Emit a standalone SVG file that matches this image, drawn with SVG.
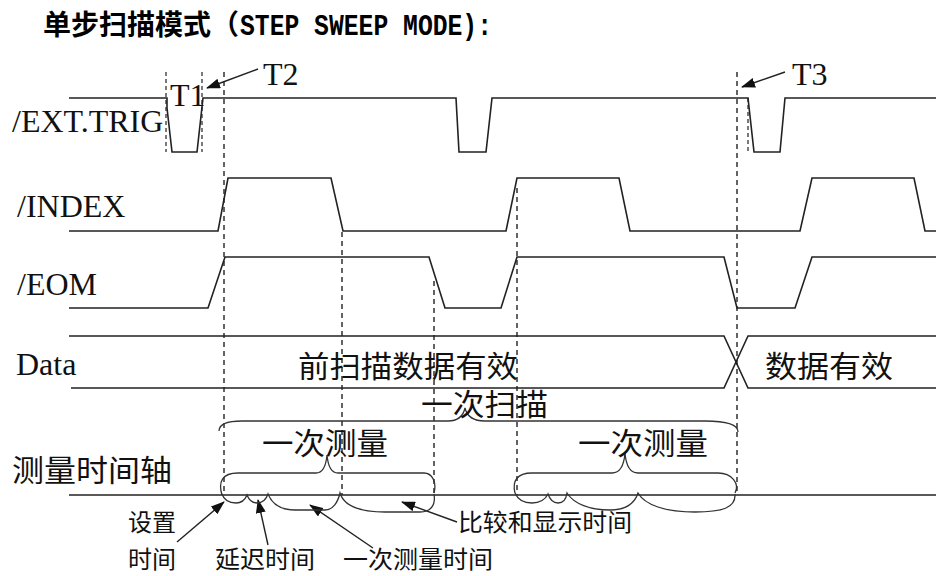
<svg xmlns="http://www.w3.org/2000/svg" width="936" height="576" viewBox="0 0 936 576">
<style>
.sig{fill:none;stroke:#222;stroke-width:1.6;stroke-linejoin:miter}
.dash{fill:none;stroke:#222;stroke-width:1.4;stroke-dasharray:5 4}
.dash2{fill:none;stroke:#222;stroke-width:1.2;stroke-dasharray:4 3}
.brace{fill:none;stroke:#333;stroke-width:1.3}
.arr{fill:none;stroke:#222;stroke-width:1.4}
.tm{font-family:"Liberation Serif","Times New Roman",serif;font-size:32px;fill:#111}
.cjk{font-family:"Noto Sans CJK SC","Noto Sans",sans-serif;font-size:30px;fill:#111}
.cjks{font-family:"Noto Sans CJK SC","Noto Sans",sans-serif;font-size:24px;fill:#111}
</style>
<defs>
<marker id="ah" markerWidth="14" markerHeight="10" refX="13" refY="5" orient="auto" markerUnits="userSpaceOnUse">
<path d="M0,0 L14,5 L0,10 Z" fill="#111"/>
</marker>
</defs>
<rect width="936" height="576" fill="#fff"/>

<g id="title">
<text x="43" y="35" font-family="Noto Sans CJK SC,sans-serif" font-weight="bold" font-size="28" fill="#000">单步扫描模式（</text>
<text x="240" y="35" font-family="Liberation Mono,monospace" font-weight="bold" font-size="29" textLength="252" lengthAdjust="spacingAndGlyphs" fill="#000">STEP SWEEP MODE):</text>
</g>

<g id="sig-ext-trig">
<text class="tm" x="12" y="132">/EXT.TRIG</text>
<path class="sig" d="M69,98 L167,98 L167,108 L172,152 L197,152 L203,98 L456,98 L459,152 L486,152 L492,98 L748,98 L754,152 L780,152 L785,98 L936,98"/>
</g>

<g id="sig-index">
<text class="tm" x="17" y="217">/INDEX</text>
<path class="sig" d="M69,231 L218,231 L228,178 L331,178 L343,231 L506,231 L517,178 L619,178 L630,231 L800,231 L812,178 L914,178 L925,231 L936,231"/>
</g>

<g id="sig-eom">
<text class="tm" x="17" y="295">/EOM</text>
<path class="sig" d="M69,308 L208,308 L225,257 L429,257 L445,308 L501,308 L517,257 L724,257 L737,308 L795,308 L812,257 L936,257"/>
</g>

<g id="sig-data">
<text class="tm" x="16" y="375">Data</text>
<path class="sig" d="M69,336 L724,336 L748,388 L936,388"/>
<path class="sig" d="M71,388 L724,388 L748,336 L936,336"/>
</g>

<g id="timeaxis">
<text class="cjk" x="12" y="481" textLength="160" lengthAdjust="spacingAndGlyphs">测量时间轴</text>
<path class="sig" d="M69,495 L936,495"/>
</g>

<g id="connectors">
<path class="dash2" d="M166,72 V152"/>
<path class="dash2" d="M202,72 V152"/>
<path class="dash2" d="M748,98 V152"/>
<path class="dash" d="M224,72 V495"/>
<path class="dash" d="M342,232 V495"/>
<path class="dash" d="M434,281 V495"/>
<path class="dash" d="M517,188 V495"/>
<path class="dash" d="M737,72 V495"/>
<path class="arr" d="M258,69 L207,88" marker-end="url(#ah)"/>
<path class="arr" d="M785,72 L742,87" marker-end="url(#ah)"/>
<path class="arr" d="M177,542 L224,502" marker-end="url(#ah)"/>
<path class="arr" d="M268,545 L258,500" marker-end="url(#ah)"/>
<path class="arr" d="M373,548 L310,505" marker-end="url(#ah)"/>
<path class="arr" d="M457,522 L402,502" marker-end="url(#ah)"/>
</g>

<g id="braces">
<path class="brace" d="M219,431 C219,424 226,421 242,421 L448,421 C458,421 463,417 465,408 C467,417 473,421 485,421 L705,421 C728,421 738,425 738,432"/>
<path class="brace" d="M222,495 C218,482 222,473 238,473 L316,473 C323,473 326,466 327,455 C328,466 331,473 338,473 L424,473 C432,473 437,482 434,493"/>
<path class="brace" d="M515,493 C512,481 517,473 532,473 L612,473 C620,473 624,465 625,453 C626,465 630,473 638,473 L718,473 C732,473 740,484 735,493"/>
<path class="brace" d="M222,494 C224,500 228,503 236,503 C242,503 245,500 247,495 C249,500 252,503 257,503 C263,503 266,500 268,494 C272,504 280,510 295,510 L325,510 C333,510 338,502 340,493 C344,506 360,512 385,512 L420,512 C430,512 436,506 434,494"/>
<path class="brace" d="M515,493 C518,500 524,503 532,503 C540,503 545,500 548,494 C550,500 554,503 558,503 C563,503 566,500 567,493 C574,504 590,510 610,510 C628,510 635,502 638,493 C645,505 665,512 695,512 C722,512 736,508 735,494"/>
</g>

<g id="labels">
<text class="tm" x="170" y="106" font-size="28">T1</text>
<text class="tm" x="263" y="85" font-size="29">T2</text>
<text class="tm" x="792" y="85" font-size="29">T3</text>
<text class="cjk" x="298" y="377" textLength="220" lengthAdjust="spacingAndGlyphs">前扫描数据有效</text>
<text class="cjk" x="765" y="377" textLength="128" lengthAdjust="spacingAndGlyphs">数据有效</text>
<text class="cjk" x="421" y="415" textLength="127" lengthAdjust="spacingAndGlyphs">一次扫描</text>
<text class="cjk" x="262" y="454" textLength="126" lengthAdjust="spacingAndGlyphs">一次测量</text>
<text class="cjk" x="578" y="454" textLength="130" lengthAdjust="spacingAndGlyphs">一次测量</text>
<text class="cjks" x="128" y="531" textLength="48" lengthAdjust="spacingAndGlyphs">设置</text>
<text class="cjks" x="128" y="568" textLength="48" lengthAdjust="spacingAndGlyphs">时间</text>
<text class="cjks" x="215" y="568" textLength="100" lengthAdjust="spacingAndGlyphs">延迟时间</text>
<text class="cjks" x="343" y="568" textLength="150" lengthAdjust="spacingAndGlyphs">一次测量时间</text>
<text class="cjks" x="458" y="531" textLength="174" lengthAdjust="spacingAndGlyphs">比较和显示时间</text>
</g>
</svg>
